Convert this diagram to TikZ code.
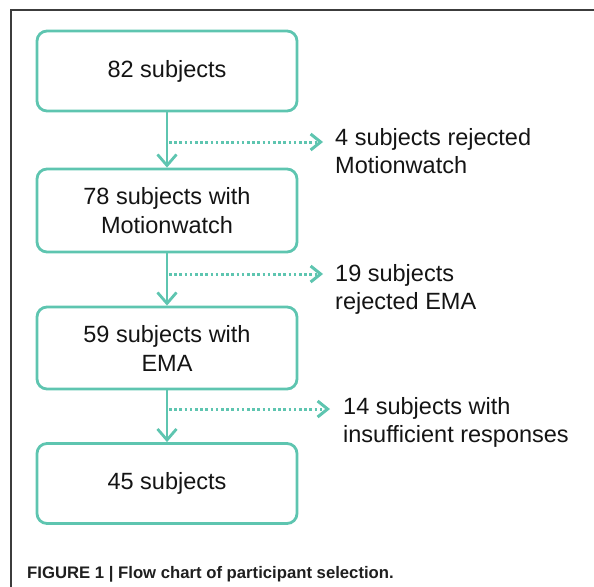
\documentclass[tikz,border=0pt]{standalone}
\usepackage{fontspec}
\setmainfont{Liberation Sans}
\usetikzlibrary{arrows.meta}
\definecolor{tealline}{RGB}{94,197,176}
\definecolor{framegray}{RGB}{60,60,60}
\begin{document}
\begin{tikzpicture}[x=1pt,y=-1pt,
  box/.style={draw=tealline, line width=2.8pt, rounded corners=10pt, minimum width=260pt, align=center, inner sep=0pt, font=\fontsize{23.5}{29}\selectfont, text=black!92},
  lbl/.style={anchor=north west, align=left, inner sep=0pt, font=\fontsize{23.5}{28.5}\selectfont, text=black!92},
  flow/.style={draw=tealline, line width=2.8pt, -{Straight Barb[length=11pt,width=19pt]}},
  drop/.style={draw=tealline, line width=3pt, dash pattern=on 2.6pt off 2.6pt, -{Straight Barb[length=10pt,width=16pt]}}
]
\useasboundingbox (0,0) rectangle (594,586);
\draw[framegray, line width=1.2pt] (11,590) -- (11,10) -- (600,10);

\node[box, minimum height=80pt] (b1) at (167,71) {82 subjects};
\node[box, minimum height=83pt] (b2) at (167,210.5) {78 subjects with\\Motionwatch};
\node[box, minimum height=82pt] (b3) at (167,348) {59 subjects with\\EMA};
\node[box, minimum height=80pt] (b4) at (167,483.5) {45 subjects};

\node[lbl] (r1) at (335,128) {4 subjects rejected\\Motionwatch};
\node[lbl] (r2) at (335,264) {19 subjects\\rejected EMA};
\node[lbl] (r3) at (343,397) {14 subjects with\\insufficient responses};

\draw[flow] (b1) -- (b2);
\draw[flow] (b2) -- (b3);
\draw[flow] (b3) -- (b4);

\coordinate (s1) at (169,142); \coordinate (e1) at (323,142);
\coordinate (s2) at (169,274); \coordinate (e2) at (323,274);
\coordinate (s3) at (169,409); \coordinate (e3) at (330,409);
\draw[drop] (s1) -- (e1);
\draw[drop] (s2) -- (e2);
\draw[drop] (s3) -- (e3);

\node[anchor=base west, inner sep=0pt, font=\fontsize{16.7}{18}\selectfont\bfseries, text=black!88] (cap) at (27,578) {FIGURE 1 | Flow chart of participant selection.};
\end{tikzpicture}
\end{document}
